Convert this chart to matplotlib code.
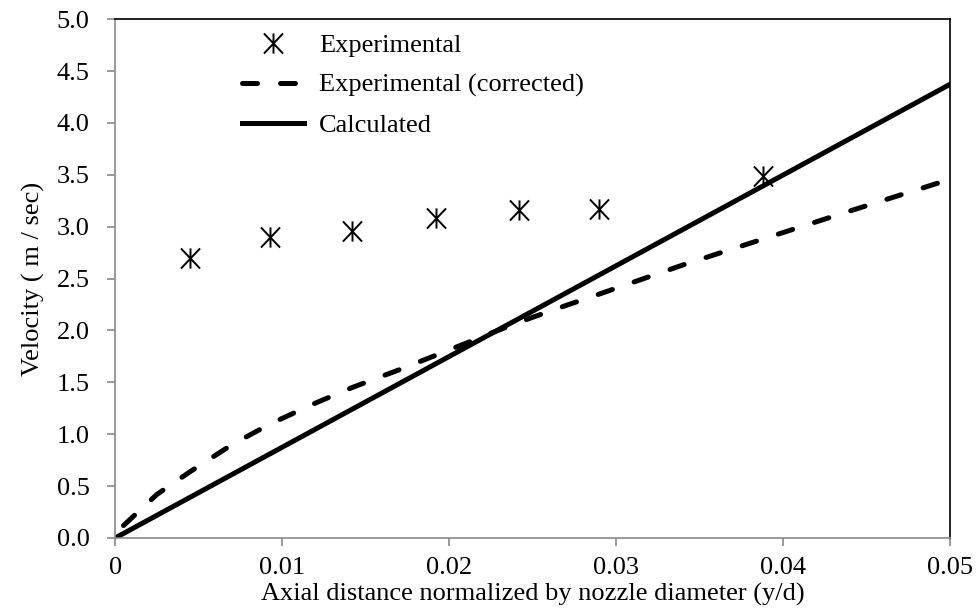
import numpy as np
import matplotlib.pyplot as plt
from matplotlib.path import Path

plt.rcParams['font.family'] = ['Liberation Serif', 'DejaVu Serif']

# experimental points (y/d, velocity)
x_exp = [0.0045, 0.0093, 0.0142, 0.0192, 0.0242, 0.0290, 0.0388]
v_exp = [2.70, 2.90, 2.96, 3.08, 3.16, 3.17, 3.49]

# corrected experimental curve
x_corr = [0.0005, 0.0025, 0.0045, 0.0070, 0.0093, 0.0120, 0.0142, 0.0170, 0.0192, 0.0220,
          0.0242, 0.0270, 0.0290, 0.0340, 0.0388, 0.0440, 0.0495]
v_corr = [0.12, 0.42, 0.64, 0.90, 1.10, 1.30, 1.45, 1.62, 1.76, 1.94,
          2.08, 2.24, 2.35, 2.63, 2.88, 3.15, 3.43]

# calculated
x_calc = [0.0, 0.05]
v_calc = [0.0, 4.37]

# asterisk marker: vertical bar plus a cross
star = Path([(0, -1), (0, 1), (-0.95, -1), (0.95, 1), (-0.95, 1), (0.95, -1)],
            [Path.MOVETO, Path.LINETO, Path.MOVETO, Path.LINETO, Path.MOVETO, Path.LINETO])

fs = 19

fig = plt.figure(figsize=(9.76, 6.09), dpi=100)
ax = fig.add_axes([0.118, 0.1166, 0.855, 0.852])

ax.plot(x_exp, v_exp, linestyle='none', marker=star, markersize=14.5,
        markeredgewidth=1.4, color='black', label='Experimental')
ax.plot(x_corr, v_corr, color='black', linewidth=3.6, linestyle=(0, (3.0, 4.6)),
        dash_capstyle='round', label='Experimental (corrected)')
ax.plot(x_calc, v_calc, color='black', linewidth=3.6, label='Calculated')

ax.set_xlim(0, 0.05)
ax.set_ylim(0, 5.0)
ax.set_xticks([0, 0.01, 0.02, 0.03, 0.04, 0.05])
ax.set_xticklabels(['0', '0.01', '0.02', '0.03', '0.04', '0.05'])
ax.set_yticks(np.arange(0, 5.01, 0.5))
ax.set_yticklabels(['%.1f' % v for v in np.arange(0, 5.01, 0.5)])

grey = '#898989'
for s in ['left', 'bottom']:
    ax.spines[s].set_color(grey)
    ax.spines[s].set_linewidth(1.2)
for s in ['top', 'right']:
    ax.spines[s].set_color('black')
    ax.spines[s].set_linewidth(1.2)
ax.tick_params(axis='both', direction='out', length=5.5, width=1.2, color=grey,
               labelsize=fs)
ax.tick_params(axis='y', pad=13)
ax.tick_params(axis='x', pad=8)

ax.set_xlabel('Axial distance normalized by nozzle diameter (y/d)', fontsize=fs, labelpad=3)
ax.set_ylabel('Velocity ( m / sec)', fontsize=fs, labelpad=8)

ax.legend(loc='upper left', bbox_to_anchor=(0.152, 0.972), frameon=False, fontsize=fs,
          borderpad=0, borderaxespad=0, handlelength=2.35, handletextpad=0.57,
          labelspacing=0.62)

fig.savefig('out.png', dpi=100)
